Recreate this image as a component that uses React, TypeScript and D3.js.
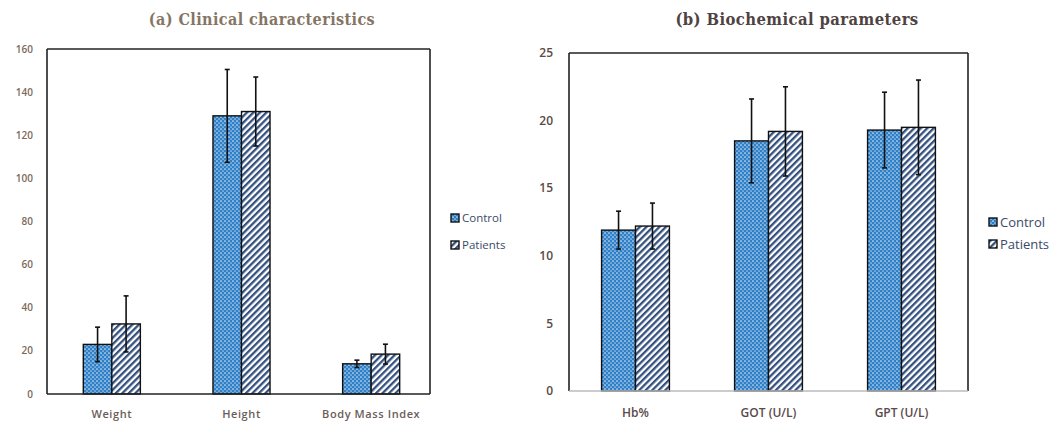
import React from "react";
import * as d3 from "d3";

const seriesNames = ["Control", "Patients"];

const clinicalCategories = ["Weight", "Height", "Body Mass Index"];
const clinicalControl = [23, 129, 14];
const clinicalControlErr = [8, 21.5, 1.7];
const clinicalPatients = [32.5, 131, 18.5];
const clinicalPatientsErr = [13, 16, 4.6];
const clinicalTicks = [0, 20, 40, 60, 80, 100, 120, 140, 160];

const bioCategories = ["Hb%", "GOT (U/L)", "GPT (U/L)"];
const bioControl = [11.9, 18.5, 19.3];
const bioControlErr = [1.4, 3.1, 2.8];
const bioPatients = [12.2, 19.2, 19.5];
const bioPatientsErr = [1.7, 3.3, 3.5];
const bioTicks = [0, 5, 10, 15, 20, 25];

type PanelProps = {
  title: string;
  titleColor: string;
  titleX: number;
  titleSize: number;
  categories: string[];
  values: number[][];
  errors: number[][];
  ticks: number[];
  frame: { left: number; right: number; top: number; bottom: number };
  bandRange: [number, number];
  padInner: number;
  tickX: number;
  tickColor: string;
  tickWeight: string;
  tickSize: number;
  xLabelColor: string;
  xLabelWeight: string;
  xLabelSize: number;
  xLabelSpacing: number;
  xLabelY: number;
  legendX: number;
  legendY: number[];
  legendSize: number;
  bottomColor: string;
};

function Panel(p: PanelProps) {
  const { frame } = p;
  const maxV = p.ticks[p.ticks.length - 1];
  const y = d3.scaleLinear().domain([0, maxV]).range([frame.bottom, frame.top]);
  const x = d3
    .scaleBand<string>()
    .domain(p.categories)
    .range(p.bandRange)
    .paddingInner(p.padInner)
    .paddingOuter(p.padInner / 2);
  const x1 = d3.scaleBand<number>().domain([0, 1]).range([0, x.bandwidth()]);
  const fills = ["url(#pControl)", "url(#pPatients)"];
  return (
    <g>
      <text
        x={p.titleX}
        y={25}
        textAnchor="middle"
        fontFamily="'DejaVu Serif Condensed', 'Liberation Serif', serif"
        fontWeight="bold"
        fontSize={p.titleSize}
        letterSpacing={0.4}
        fill={p.titleColor}
      >
        {p.title}
      </text>
      <line x1={frame.left} x2={frame.right} y1={frame.top} y2={frame.top} stroke="#222" strokeWidth={1.6} />
      <line x1={frame.left} x2={frame.left} y1={frame.top} y2={frame.bottom} stroke="#222" strokeWidth={1.6} />
      <line x1={frame.right} x2={frame.right} y1={frame.top} y2={frame.bottom} stroke="#222" strokeWidth={1.6} />
      {p.ticks.map((t) => (
        <text
          key={t}
          x={p.tickX}
          y={y(t)}
          dy="0.35em"
          textAnchor="end"
          fontFamily="'Open Sans', 'Liberation Sans', sans-serif"
          fontSize={p.tickSize}
          fontWeight={p.tickWeight}
          fill={p.tickColor}
        >
          {t}
        </text>
      ))}
      {p.categories.map((c, i) => (
        <g key={c}>
          {[0, 1].map((s) => {
            const v = p.values[s][i];
            const bx = (x(c) as number) + (x1(s) as number);
            return (
              <rect
                key={s}
                x={bx}
                y={y(v)}
                width={x1.bandwidth()}
                height={y(0) - y(v)}
                fill={fills[s]}
                stroke="#111"
                strokeWidth={1.4}
              />
            );
          })}
          {[0, 1].map((s) => {
            const v = p.values[s][i];
            const e = p.errors[s][i];
            const cx = (x(c) as number) + (x1(s) as number) + x1.bandwidth() / 2;
            return (
              <g key={"e" + s} stroke="#111" strokeWidth={1.6}>
                <line x1={cx} x2={cx} y1={y(v + e)} y2={y(v - e)} />
                <line x1={cx - 2.5} x2={cx + 2.5} y1={y(v + e)} y2={y(v + e)} />
                <line x1={cx - 2.5} x2={cx + 2.5} y1={y(v - e)} y2={y(v - e)} />
              </g>
            );
          })}
          <text
            x={(x(c) as number) + x.bandwidth() / 2}
            y={p.xLabelY}
            textAnchor="middle"
            fontFamily="'Open Sans', 'Liberation Sans', sans-serif"
            fontSize={p.xLabelSize}
            fontWeight={p.xLabelWeight}
            letterSpacing={p.xLabelSpacing}
            fill={p.xLabelColor}
          >
            {c}
          </text>
        </g>
      ))}
      <line x1={frame.left} x2={frame.right} y1={frame.bottom} y2={frame.bottom} stroke={p.bottomColor} strokeWidth={1.6} />
      {seriesNames.map((n, s) => (
        <g key={n}>
          <rect
            x={p.legendX}
            y={p.legendY[s] - 4}
            width={8}
            height={8}
            fill={fills[s]}
            stroke="#111"
            strokeWidth={1.4}
          />
          <text
            x={p.legendX + 11}
            y={p.legendY[s]}
            dy="0.35em"
            fontFamily="'Open Sans', 'Liberation Sans', sans-serif"
            fontSize={p.legendSize}
            fill="#3a4a6a"
          >
            {n}
          </text>
        </g>
      ))}
    </g>
  );
}

export default function App() {
  return (
    <svg
      width={1056}
      height={425}
      style={{ position: "absolute", left: 0, top: 0, background: "#fff" }}
    >
      <defs>
        <pattern id="pControl" width={4} height={4} patternUnits="userSpaceOnUse">
          <rect width={4} height={4} fill="#2f7fc6" />
          <circle cx={1} cy={1} r={0.85} fill="#d6e8f7" />
          <circle cx={3} cy={3} r={0.85} fill="#a9cdef" />
        </pattern>
        <pattern
          id="pPatients"
          width={4.6}
          height={4.6}
          patternUnits="userSpaceOnUse"
          patternTransform="rotate(45)"
        >
          <rect width={4.6} height={4.6} fill="#ffffff" />
          <rect width={2.3} height={4.6} fill="#34507e" />
        </pattern>
      </defs>
      <Panel
        title="(a) Clinical characteristics"
        titleColor="#857565"
        titleX={262}
        titleSize={16}
        categories={clinicalCategories}
        values={[clinicalControl, clinicalPatients]}
        errors={[clinicalControlErr, clinicalPatientsErr]}
        ticks={clinicalTicks}
        frame={{ left: 47, right: 430, top: 49, bottom: 394 }}
        bandRange={[47, 436]}
        padInner={0.56}
        tickX={33}
        tickColor="#7a6a5c"
        tickWeight="600"
        tickSize={10}
        xLabelColor="#6a5d58"
        xLabelWeight="600"
        xLabelSize={11}
        xLabelSpacing={0.6}
        xLabelY={418}
        legendX={451}
        legendY={[218, 245]}
        legendSize={11.5}
        bottomColor="#222"
      />
      <Panel
        title="(b) Biochemical parameters"
        titleColor="#4f4242"
        titleX={797}
        titleSize={16.5}
        categories={bioCategories}
        values={[bioControl, bioPatients]}
        errors={[bioControlErr, bioPatientsErr]}
        ticks={bioTicks}
        frame={{ left: 569, right: 968, top: 53, bottom: 391 }}
        bandRange={[569, 968]}
        padInner={0.49}
        tickX={553}
        tickColor="#5a4a44"
        tickWeight="600"
        tickSize={12}
        xLabelColor="#5a4a4a"
        xLabelWeight="600"
        xLabelSize={12}
        xLabelSpacing={0}
        xLabelY={417}
        legendX={989}
        legendY={[222, 244]}
        legendSize={13}
        bottomColor="#bbb"
      />
    </svg>
  );
}
